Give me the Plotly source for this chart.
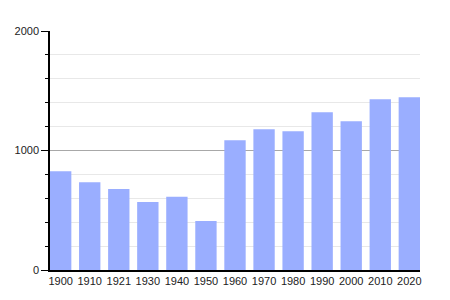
import plotly.graph_objects as go

years = ["1900", "1910", "1921", "1930", "1940", "1950", "1960", "1970", "1980", "1990", "2000", "2010", "2020"]
population = [827, 735, 677, 568, 612, 409, 1086, 1178, 1161, 1320, 1245, 1429, 1445]
y_ticks = [0, 1000, 2000]

idx = list(range(len(years)))
bw = 0.735

fig = go.Figure(go.Bar(
    x=idx, y=population, width=bw,
    marker=dict(color="#9aaeff", line=dict(width=0)),
))

fig.update_layout(
    width=450, height=300,
    margin=dict(l=50, r=30, t=31, b=30),
    paper_bgcolor="white", plot_bgcolor="white",
    font=dict(family="Liberation Sans, Arial, sans-serif", size=11, color="#222"),
    showlegend=False,
    xaxis=dict(
        range=[-bw / 2, len(years) - 1 + bw / 2],
        tickmode="array", tickvals=idx, ticktext=years,
        showgrid=False, zeroline=False,
        showline=True, linecolor="black", linewidth=1.5,
        ticks="", ticklen=0, tickfont=dict(size=11),
    ),
    yaxis=dict(
        range=[0, 2000],
        tickmode="array", tickvals=y_ticks,
        showgrid=True, gridcolor="#a8a8a8", gridwidth=1,
        zeroline=False,
        showline=True, linecolor="black", linewidth=1.5,
        ticks="outside", ticklen=7, tickcolor="black", tickwidth=1,
        minor=dict(dtick=200, tick0=0, ticks="outside", ticklen=3, tickcolor="black",
                   showgrid=True, gridcolor="#e8e8e8", gridwidth=1),
        tickfont=dict(size=11),
    ),
)

fig.write_html("out.html")
